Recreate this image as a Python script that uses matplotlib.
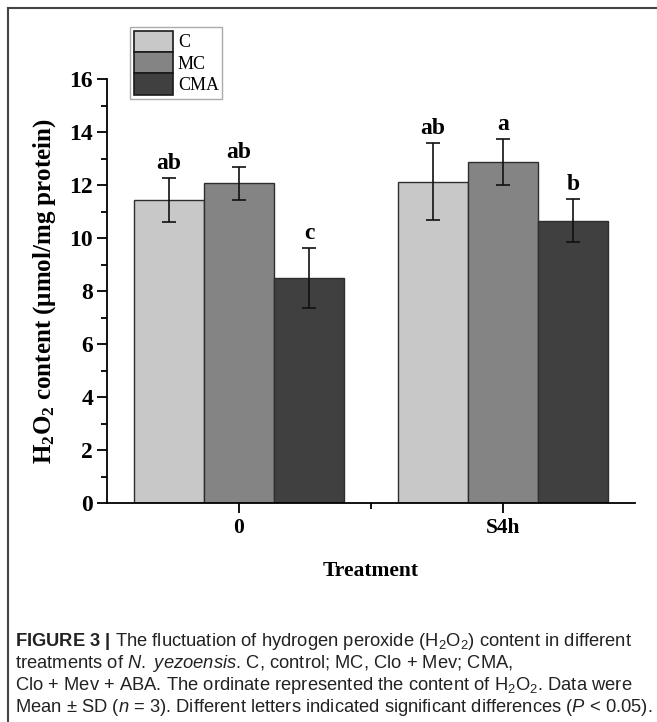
import numpy as np
import matplotlib
matplotlib.use("Agg")
import matplotlib.pyplot as plt
from matplotlib.lines import Line2D
from matplotlib.ticker import MultipleLocator, FixedLocator

plt.rcParams['font.family'] = ['Liberation Serif', 'DejaVu Serif']
plt.rcParams['mathtext.fontset'] = 'custom'
plt.rcParams['mathtext.rm'] = 'Liberation Sans'
plt.rcParams['mathtext.it'] = 'Liberation Sans:italic'
plt.rcParams['mathtext.bf'] = 'Liberation Sans:bold'

# data
groups = ['0', 'S4h']
series = ['C', 'MC', 'CMA']
means = {
    'C': [11.45, 12.13],
    'MC': [12.07, 12.87],
    'CMA': [8.48, 10.66],
}
sds = {
    'C': [0.83, 1.45],
    'MC': [0.62, 0.88],
    'CMA': [1.13, 0.81],
}
letters = {
    'C': ['ab', 'ab'],
    'MC': ['ab', 'a'],
    'CMA': ['c', 'b'],
}
colors = {'C': '#c8c8c8', 'MC': '#848484', 'CMA': '#404040'}

W, H = 657, 722
fig = plt.figure(figsize=(W / 100, H / 100), dpi=100)
ax = fig.add_axes([107 / W, 1 - 503 / H, (635 - 107) / W, (503 - 79) / H])

x = np.arange(len(groups))
bw = 0.265
handles = []
for k, s in enumerate(series):
    pos = x + (k - 1) * bw
    b = ax.bar(pos, means[s], width=bw, color=colors[s], edgecolor='#2e2e2e',
               linewidth=1.0, label=s, zorder=2)
    handles.append(b)
    ax.errorbar(pos, means[s], yerr=sds[s], fmt='none', ecolor='#111111',
                elinewidth=1.2, capsize=5, capthick=1.2, zorder=3)
    for p, m, e, t in zip(pos, means[s], sds[s], letters[s]):
        ax.text(p, m + e + 0.15, t, ha='center', va='bottom',
                fontsize=17, fontweight='bold')

ax.set_xlim(-0.5, 1.5)
ax.set_ylim(0, 16)
ax.spines['top'].set_visible(False)
ax.spines['right'].set_visible(False)
ax.spines['left'].set_linewidth(1.3)
ax.spines['bottom'].set_linewidth(1.3)
ax.spines['left'].set_bounds(0, 16)

ax.set_xticks(x)
ax.set_xticklabels(groups)
ax.xaxis.set_minor_locator(FixedLocator([0.5]))
ax.yaxis.set_major_locator(MultipleLocator(2))
ax.yaxis.set_minor_locator(MultipleLocator(1))
ax.tick_params(which='major', length=7, width=1.3, pad=4)
ax.tick_params(which='minor', length=4, width=1.3)
ax.tick_params(axis='y', labelsize=17, pad=3)
ax.tick_params(axis='x', labelsize=15.5)
for lab in ax.get_xticklabels() + ax.get_yticklabels():
    lab.set_fontweight('bold')

ax.set_ylabel(r'$\mathregular{H_2O_2}$ content (μmol/mg protein)',
              fontsize=18, fontweight='bold', labelpad=8)
ax.set_xlabel('Treatment', fontsize=15.5, fontweight='bold', labelpad=16)

leg = fig.legend(handles=handles, labels=series, loc='upper left',
                 bbox_to_anchor=(130 / W, 1 - 27 / H), fontsize=13,
                 handlelength=2.2, handleheight=1.45, labelspacing=0.0,
                 handletextpad=0.25, borderpad=0.2, borderaxespad=0,
                 fancybox=False, edgecolor='#aaaaaa', framealpha=1)
leg.get_frame().set_linewidth(1.0)
for p in leg.get_patches():
    p.set_edgecolor('#1a1a1a')
    p.set_linewidth(1.2)

# outer frame (top and left)
fig.add_artist(Line2D([8 / W, 8 / W], [0, 1 - 8 / H], color='#444444', lw=1.5,
                      transform=fig.transFigure))
fig.add_artist(Line2D([8 / W, 1], [1 - 8 / H, 1 - 8 / H], color='#444444', lw=1.5,
                      transform=fig.transFigure))

# caption
cap_font = dict(family=['Liberation Sans', 'DejaVu Sans'], fontsize=13.25,
                color='#222222', va='center', ha='left')
cap_lines = [
    r'$\mathbf{FIGURE\ 3\ |}$ The fluctuation of hydrogen peroxide ($\mathregular{H_2O_2}$) content in different',
    r'treatments of $\mathit{N.}$ $\mathit{yezoensis}$. C, control; MC, Clo + Mev; CMA,',
    r'Clo + Mev + ABA. The ordinate represented the content of $\mathregular{H_2O_2}$. Data were',
    r'Mean ± SD ($\mathit{n}$ = 3). Different letters indicated significant differences ($\mathit{P}$ < 0.05).',
]
cap_y = [641, 663, 686, 708]
for t, yy in zip(cap_lines, cap_y):
    fig.text(15 / W, 1 - yy / H, t, **cap_font)

fig.savefig('out.png', dpi=100)
